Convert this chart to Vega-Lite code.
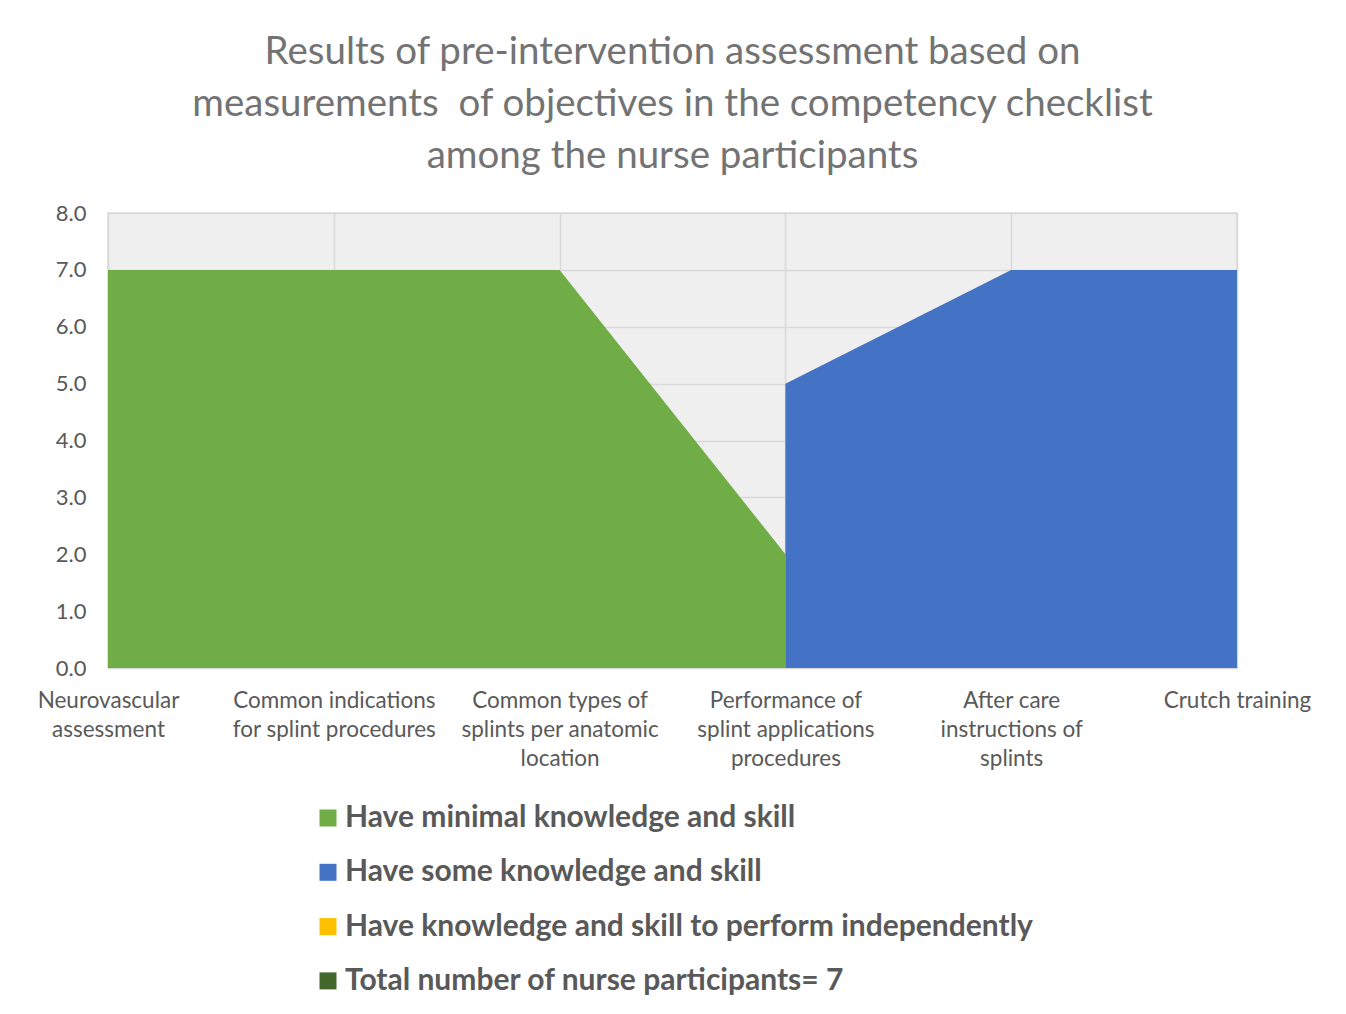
{
  "$schema": "https://vega.github.io/schema/vega-lite/v6.json",
  "width": 1129,
  "height": 455,
  "autosize": {"type": "none"},
  "padding": {"left": 108, "top": 213, "right": 109, "bottom": 346},
  "background": "white",
  "title": {
    "text": ["Results of pre-intervention assessment based on", "measurements\u00a0 of objectives in the competency checklist", "among the nurse participants"],
    "font": "Lato",
    "fontSize": 38.5,
    "fontWeight": "normal",
    "color": "#737373",
    "lineHeight": 52,
    "anchor": "middle",
    "offset": 26
  },
  "config": {
    "view": {"fill": "#efefef", "stroke": "#d9d9d9", "strokeWidth": 1.5},
    "font": "Lato"
  },
  "data": {
    "values": [
      {"objective": "Neurovascular assessment", "level": "Have minimal knowledge and skill", "count": 7},
      {"objective": "Common indications for splint procedures", "level": "Have minimal knowledge and skill", "count": 7},
      {"objective": "Common types of splints per anatomic location", "level": "Have minimal knowledge and skill", "count": 7},
      {"objective": "Performance of splint applications procedures", "level": "Have minimal knowledge and skill", "count": 2},
      {"objective": "Performance of splint applications procedures", "level": "Have some knowledge and skill", "count": 5},
      {"objective": "After care instructions of splints", "level": "Have some knowledge and skill", "count": 7},
      {"objective": "Crutch training", "level": "Have some knowledge and skill", "count": 7}
    ]
  },
  "mark": {"type": "area", "opacity": 1},
  "encoding": {
    "x": {
      "field": "objective",
      "type": "nominal",
      "sort": ["Neurovascular assessment", "Common indications for splint procedures", "Common types of splints per anatomic location", "Performance of splint applications procedures", "After care instructions of splints", "Crutch training"],
      "scale": {"type": "point", "padding": 0},
      "axis": {
        "title": null,
        "labelAngle": 0,
        "labelAlign": "center",
        "labelBaseline": "top",
        "labelPadding": 21,
        "labelFontSize": 22.5,
        "labelLineHeight": 29,
        "labelColor": "#595959",
        "labelFont": "Lato",
        "labelLimit": 0,
        "labelOverlap": false,
        "labelBound": false,
        "ticks": false,
        "domain": false,
        "grid": true,
        "gridColor": "#d9d9d9",
        "gridWidth": 1.5,
        "labelExpr": "datum.label == 'Neurovascular assessment' ? ['Neurovascular', 'assessment'] : datum.label == 'Common indications for splint procedures' ? ['Common indications', 'for splint procedures'] : datum.label == 'Common types of splints per anatomic location' ? ['Common types of', 'splints per anatomic', 'location'] : datum.label == 'Performance of splint applications procedures' ? ['Performance of', 'splint applications', 'procedures'] : datum.label == 'After care instructions of splints' ? ['After care', 'instructions of', 'splints'] : datum.label"
      }
    },
    "y": {
      "field": "count",
      "type": "quantitative",
      "stack": null,
      "scale": {"domain": [0, 8], "nice": false},
      "axis": {
        "title": null,
        "values": [0, 1, 2, 3, 4, 5, 6, 7, 8],
        "format": ".1f",
        "labelPadding": 22,
        "labelFontSize": 22,
        "labelColor": "#595959",
        "labelFont": "Lato",
        "ticks": false,
        "domain": false,
        "grid": true,
        "gridColor": "#d9d9d9",
        "gridWidth": 1.5
      }
    },
    "color": {
      "field": "level",
      "type": "nominal",
      "scale": {
        "domain": ["Have minimal knowledge and skill", "Have some knowledge and skill", "Have knowledge and skill to perform independently", "Total number of nurse participants= 7"],
        "range": ["#70AD47", "#4472C4", "#FFC000", "#43682B"]
      },
      "legend": {
        "title": null,
        "orient": "none",
        "legendX": 205,
        "legendY": 590,
        "direction": "vertical",
        "symbolType": "square",
        "symbolSize": 289,
        "symbolStrokeWidth": 0,
        "symbolOpacity": 1,
        "labelFont": "Lato",
        "labelFontSize": 30,
        "labelFontWeight": "bold",
        "labelColor": "#595959",
        "labelLimit": 0,
        "labelOffset": 2,
        "rowPadding": 24.3
      }
    }
  }
}
